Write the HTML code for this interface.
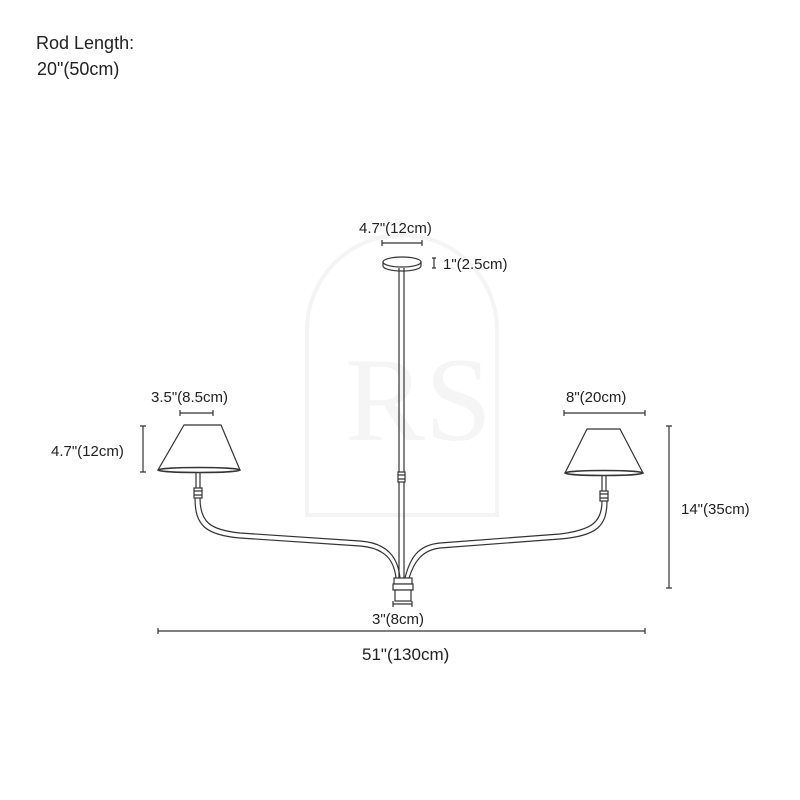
<!DOCTYPE html>
<html><head><meta charset="utf-8"><style>
html,body{margin:0;padding:0;background:#fff;}
svg{display:block;}
text{font-family:"Liberation Sans","DejaVu Sans",sans-serif;fill:#222;}
</style></head><body>
<svg width="800" height="800" viewBox="0 0 800 800" xmlns="http://www.w3.org/2000/svg">
<g fill="none" stroke="#f4f4f4" stroke-width="4">
<path d="M307 515 V330 A95 95 0 0 1 497 330 V515 Z"/>
</g>
<text x="345" y="440" font-size="120" style="fill:#f5f5f5;font-family:'Liberation Serif',serif">RS</text>

<text x="36" y="49" font-size="18">Rod Length:</text>
<text x="37" y="75" font-size="18">20"(50cm)</text>

<g stroke="#333" fill="none" stroke-width="1.2">
<path d="M382 243 H422 M382 240 V246 M422 240 V246"/>
<path d="M434 258 V268 M432 258 H436 M432 268 H436"/>
<path d="M180 413 H213 M180 410 V416 M213 410 V416"/>
<path d="M564 413 H645 M564 410 V416 M645 410 V416"/>
<path d="M143 426 V472 M140 426 H146 M140 472 H146"/>
<path d="M669 426 V588 M666 426 H672 M666 588 H672"/>
<path d="M393 604 H412 M393 601 V607 M412 601 V607"/>
<path d="M158 631 H645 M158 628 V634 M645 628 V634"/>

<ellipse cx="402" cy="262" rx="19" ry="5"/>
<path d="M383 262 V266 A19 5 0 0 0 421 266 V262"/>
<path d="M399 268 V578 M404 268 V578"/>
<rect x="398" y="472" width="7" height="10" fill="#fff"/>
<path d="M398 475 H405 M398 479 H405"/>

<path d="M184 425 H221 L240 470 H158 Z" fill="#fff"/>
<ellipse cx="199" cy="470" rx="41" ry="2.5" fill="#fff" stroke-width="1.6"/>
<path d="M196 473 V488 M200 473 V488"/>
<rect x="194" y="488" width="8" height="10" fill="#fff"/>
<path d="M194 491 H202 M194 495 H202"/>
<path d="M195 498 C195 525 205 535 240 538 L360 546 C385 548 394 560 396 578"/>
<path d="M200 498 C200 522 210 530 240 533 L360 541 C388 543 398 558 400 578"/>

<path d="M587 429 H620 L643 473 H565 Z" fill="#fff"/>
<ellipse cx="604" cy="473" rx="39" ry="2.5" fill="#fff" stroke-width="1.6"/>
<path d="M602 476 V491 M606 476 V491"/>
<rect x="600" y="491" width="8" height="10" fill="#fff"/>
<path d="M600 494 H608 M600 498 H608"/>
<path d="M602 501 C602 522 592 530 560 534 L440 543 C418 545 410 558 405 578"/>
<path d="M607 501 C607 526 597 536 560 539 L440 548 C422 550 414 562 409 578"/>

<rect x="394" y="578" width="18" height="6" fill="#fff"/>
<rect x="393" y="584" width="20" height="6" fill="#fff"/>
<rect x="395" y="590" width="16" height="11" fill="#fff"/>
</g>

<g font-size="15">
<text x="359" y="233">4.7"(12cm)</text>
<text x="443" y="269">1"(2.5cm)</text>
<text x="151" y="402">3.5"(8.5cm)</text>
<text x="566" y="402">8"(20cm)</text>
<text x="51" y="456">4.7"(12cm)</text>
<text x="681" y="514">14"(35cm)</text>
<text x="372" y="624">3"(8cm)</text>
<text x="362" y="660" font-size="17">51"(130cm)</text>
</g>
</svg>
</body></html>
